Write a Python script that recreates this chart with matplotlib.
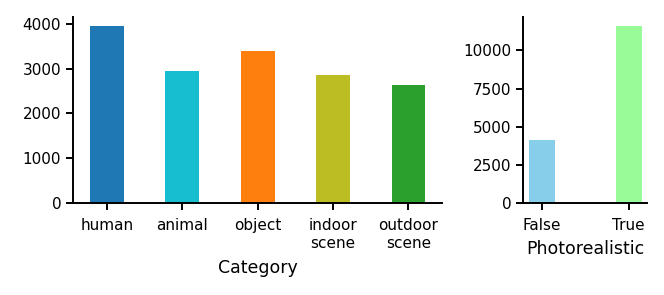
import matplotlib
matplotlib.use('Agg')
import matplotlib.pyplot as plt

# category counts
categories = ['human', 'animal', 'object', 'indoor\nscene', 'outdoor\nscene']
category_counts = [3955, 2950, 3397, 2860, 2637]
category_colors = ['tab:blue', 'tab:cyan', 'tab:orange', 'tab:olive', 'tab:green']

# photorealistic counts
photo_labels = ['False', 'True']
photo_counts = [4140, 11600]
photo_colors = ['skyblue', 'palegreen']

plt.rcParams['axes.linewidth'] = 1.4
plt.rcParams['xtick.major.width'] = 1.4
plt.rcParams['ytick.major.width'] = 1.4
plt.rcParams['xtick.major.size'] = 5
plt.rcParams['ytick.major.size'] = 5

fig = plt.figure(figsize=(6.64, 2.95), dpi=100)
ax1 = fig.add_axes([0.110, 0.312, 0.556, 0.630])
ax2 = fig.add_axes([0.788, 0.312, 0.187, 0.630])

ax1.bar(range(len(categories)), category_counts, width=0.45, color=category_colors)
ax1.set_xticks(range(len(categories)))
ax1.set_xticklabels(categories)
ax1.set_xlabel('Category', fontsize=12.5, labelpad=6)

ax2.bar(range(len(photo_labels)), photo_counts, width=0.3, color=photo_colors)
ax2.set_xticks(range(len(photo_labels)))
ax2.set_xticklabels(photo_labels)
ax2.set_xlabel('Photorealistic', fontsize=12.5, labelpad=5)

for ax in (ax1, ax2):
    ax.spines['top'].set_visible(False)
    ax.spines['right'].set_visible(False)
    ax.tick_params(labelsize=11)
    ax.tick_params(axis='x', pad=6)

plt.savefig('out.png', dpi=100)
